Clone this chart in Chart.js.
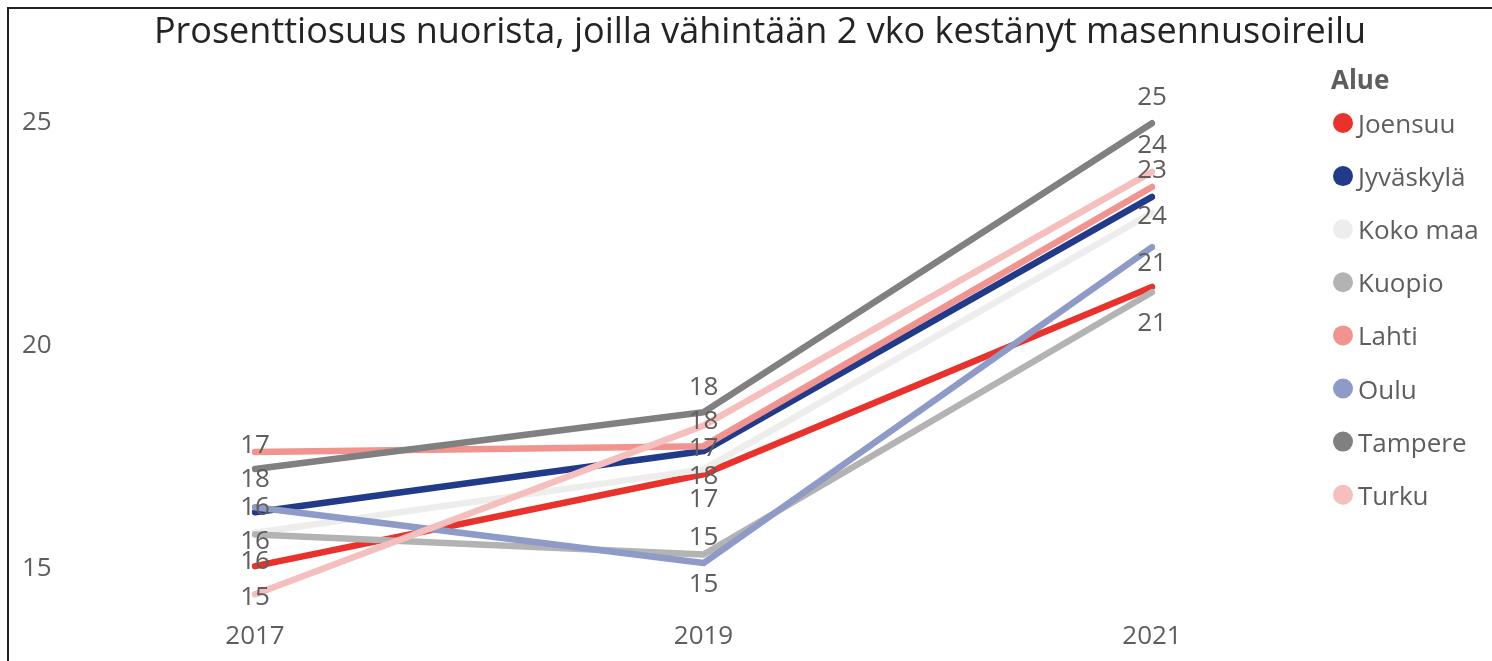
<!DOCTYPE html>
<html>
<head>
<meta charset="utf-8">
<script src="https://cdn.jsdelivr.net/npm/chart.js@4"></script>
<style>
  html, body { margin: 0; padding: 0; background: #fff; }
  #wrap { position: relative; width: 1492px; height: 661px; }
  #frame { position: absolute; left: 7px; top: 7px; right: 0; bottom: 0;
           border-top: 2px solid #222; border-left: 2px solid #222; pointer-events: none; }
</style>
</head>
<body>
<div id="wrap">
  <canvas id="chart" width="1492" height="661"></canvas>
  <div id="frame"></div>
</div>
<script>
const years = ['2017', '2019', '2021'];
const areas = ['Joensuu', 'Jyväskylä', 'Koko maa', 'Kuopio', 'Lahti', 'Oulu', 'Tampere', 'Turku'];
const colors = ['#E8322B', '#223A8A', '#EDEDEC', '#B3B3B3', '#F1948F', '#8F9BC7', '#808080', '#F5BFBD'];

// values
const joensuu = [15.05, 17.11, 21.31];
const jyvaskyla = [16.26, 17.63, 23.33];
const kokoMaa = [15.80, 17.22, 22.97];
const kuopio = [15.76, 15.31, 21.19];
const lahti = [17.61, 17.74, 23.55];
const oulu = [16.37, 15.12, 22.20];
const tampere = [17.23, 18.50, 24.98];
const turku = [14.42, 18.20, 23.89];
const values = [joensuu, jyvaskyla, kokoMaa, kuopio, lahti, oulu, tampere, turku];

// data labels as printed in the picture (null = not shown)
const joensuuLabels = ['16', '17', null];
const jyvaskylaLabels = ['16', null, null];
const kokoMaaLabels = [null, '18', '24'];
const kuopioLabels = ['16', '15', '21'];
const lahtiLabels = ['17', '17', '23'];
const ouluLabels = [null, '15', '21'];
const tampereLabels = ['18', '18', '25'];
const turkuLabels = ['15', '18', '24'];
const pointLabels = [joensuuLabels, jyvaskylaLabels, kokoMaaLabels, kuopioLabels,
                     lahtiLabels, ouluLabels, tampereLabels, turkuLabels];

const yTicks = [15, 20, 25];
const title = 'Prosenttiosuus nuorista, joilla vähintään 2 vko kestänyt masennusoireilu';

// vertical label shift in px from its point
const labelShift = [
  [-5, 25, 0], [-5, 0, 0], [0, 7, 4], [7, -17, 31],
  [-6, 2, -16], [0, 22, 16], [11, -25, -26], [3, -4, -26]
];

const FONT = '"Open Sans", "Noto Sans", sans-serif';
const textGrey = '#605E5C';

const extras = {
  id: 'extras',
  afterDatasetsDraw(chart) {
    const ctx = chart.ctx;
    ctx.save();
    ctx.font = '26px ' + FONT;
    ctx.fillStyle = textGrey;
    ctx.textAlign = 'center';
    ctx.textBaseline = 'middle';
    chart.data.datasets.forEach((ds, i) => {
      const meta = chart.getDatasetMeta(i);
      pointLabels[i].forEach((txt, j) => {
        if (txt === null) return;
        const p = meta.data[j];
        ctx.fillText(txt, p.x, p.y + labelShift[i][j]);
      });
    });
    ctx.restore();
  },
  afterDraw(chart) {
    const ctx = chart.ctx;
    ctx.save();
    // title
    ctx.font = '36px ' + FONT;
    ctx.fillStyle = '#252423';
    ctx.textAlign = 'center';
    ctx.textBaseline = 'alphabetic';
    ctx.fillText(title, 760, 43);
    // legend
    ctx.textAlign = 'left';
    ctx.fillStyle = textGrey;
    ctx.font = 'bold 26px ' + FONT;
    ctx.fillText('Alue', 1331, 89);
    ctx.font = '26px ' + FONT;
    areas.forEach((name, i) => {
      const cy = 123 + i * 53.1;
      ctx.beginPath();
      ctx.arc(1343, cy, 10, 0, Math.PI * 2);
      ctx.fillStyle = colors[i];
      ctx.fill();
      ctx.fillStyle = textGrey;
      ctx.fillText(name, 1358, cy + 10);
    });
    ctx.restore();
  }
};

const ctx = document.getElementById('chart').getContext('2d');
new Chart(ctx, {
  type: 'line',
  data: {
    labels: years,
    datasets: areas.map((name, i) => ({
      label: name,
      data: values[i],
      borderColor: colors[i],
      backgroundColor: colors[i],
      borderWidth: 6.5,
      borderCapStyle: 'round',
      borderJoinStyle: 'round',
      pointRadius: 0,
      tension: 0,
      order: areas.length - i
    }))
  },
  options: {
    responsive: false,
    animation: false,
    layout: { padding: { left: 22, right: 340, top: 100, bottom: 0 } },
    plugins: {
      legend: { display: false },
      tooltip: { enabled: false }
    },
    scales: {
      x: {
        offset: false,
        grid: { display: false, drawTicks: false },
        border: { display: false },
        ticks: { color: textGrey, font: { family: FONT, size: 26 }, padding: 8, maxRotation: 0 },
        afterFit(scale) { scale.height = 48; }
      },
      y: {
        min: 14,
        max: 25.5,
        grid: { display: false, drawTicks: false },
        border: { display: false },
        ticks: { color: textGrey, font: { family: FONT, size: 26 }, crossAlign: 'far' },
        afterBuildTicks(scale) { scale.ticks = yTicks.map(v => ({ value: v })); },
        afterFit(scale) { scale.width = 233; }
      }
    }
  },
  plugins: [extras]
});
</script>
</body>
</html>
